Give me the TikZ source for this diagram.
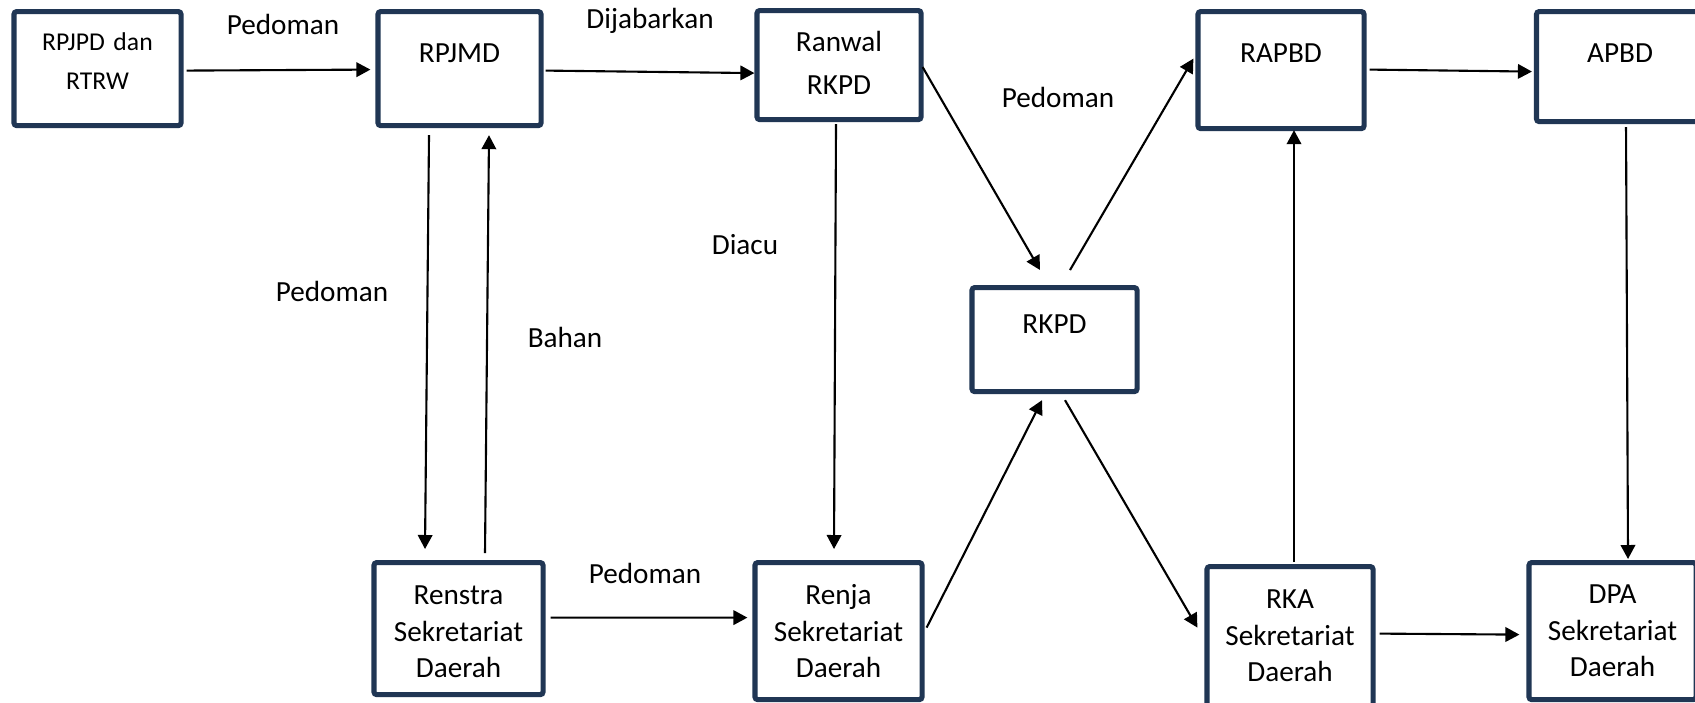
\documentclass[tikz,border=0pt]{standalone}
\usepackage{fontspec}
\setmainfont{Carlito}
\usetikzlibrary{arrows.meta}
\definecolor{boxblue}{RGB}{32,54,84}
\tikzset{
	box/.style={draw=boxblue, line width=1.45pt, rounded corners=0.8pt, fill=white, inner sep=0pt,
		align=center, anchor=north, font=\fontsize{8.3}{10.4}\selectfont},
	lbl/.style={inner sep=0pt, font=\fontsize{8.3}{10}\selectfont}
}
\begin{document}
\begin{tikzpicture}[
		x=0.01cm,
		y=-0.01cm,
		>={Triangle[length=0.14cm,width=0.145cm]},
		line width=0.6pt
		]
		\clip (0,0) rectangle (1695,702);
		\fill[white] (0,0) rectangle (1695,702);
		% top row
		\node[box, text width=1.67cm, text height=0.39cm, text depth=0.75cm, font=\fontsize{7.3}{11.1}\selectfont] (rpjpd) at (97.5,9) {RPJPD dan\\RTRW};
		\node[box, text width=1.63cm, text height=0.51cm, text depth=0.63cm] (rpjmd) at (459.5,9) {RPJMD};
		\node[box, text width=1.64cm, text height=0.41cm, text depth=0.68cm, font=\fontsize{8.3}{12.2}\selectfont] (ranwal) at (839,8) {Ranwal\\RKPD};
		\node[box, text width=1.66cm, text height=0.51cm, text depth=0.66cm] (rapbd) at (1281,9) {RAPBD};
		\node[box, text width=1.67cm, text height=0.51cm, text depth=0.59cm] (apbd) at (1620,9) {APBD};
		% middle
		\node[box, text width=1.65cm, text height=0.46cm, text depth=0.58cm] (rkpd) at (1054.5,285) {RKPD};
		% bottom row
		\node[box, text width=1.69cm, text height=0.42cm, text depth=0.90cm] (renstra) at (458.5,560) {Renstra\\Sekretariat\\Daerah};
		\node[box, text width=1.67cm, text height=0.42cm, text depth=0.95cm] (renja) at (838.5,560) {Renja\\Sekretariat\\Daerah};
		\node[box, text width=1.66cm, text height=0.42cm, text depth=1.06cm] (rka) at (1290,564) {RKA\\Sekretariat\\Daerah};
		\node[box, text width=1.67cm, text height=0.41cm, text depth=0.96cm] (dpa) at (1612.5,560) {DPA\\Sekretariat\\Daerah};
		% labels
		\node[lbl] (l-ped1) at (283,24) {Pedoman};
		\node[lbl] (l-dijab) at (650,21) {Dijabarkan};
		\node[lbl] (l-ped2) at (1058,97) {Pedoman};
		\node[lbl] (l-diacu) at (745,245) {Diacu};
		\node[lbl] (l-ped3) at (332,291) {Pedoman};
		\node[lbl] (l-bahan) at (565,337) {Bahan};
		\node[lbl] (l-ped4) at (645,573) {Pedoman};
		% arrows
		\begin{scope}[->]
		\draw ([shift={(3,2)}]rpjpd.east) -- ([shift={(-5,1)}]rpjmd.west);
		\draw ([shift={(2,2)}]rpjmd.east) -- ([shift={(0,8)}]ranwal.west);
		\draw ([shift={(-30.5,7)}]rpjmd.south) -- ([shift={(-33.5,-11)}]renstra.north);
		\draw ([shift={(26.5,-7)}]renstra.north) -- ([shift={(29.5,7)}]rpjmd.south);
		\draw ([shift={(-3,2)}]ranwal.south) -- ([shift={(-4.5,-11)}]renja.north);
		\draw ([shift={(-1,2)}]ranwal.east) -- ([shift={(-14.5,-15)}]rkpd.north);
		\draw ([shift={(15.5,-15)}]rkpd.north) -- ([shift={(-2,-11.5)}]rapbd.west);
		\draw ([shift={(3,-0.5)}]rapbd.east) -- ([shift={(-2,5)}]apbd.west);
		\draw ([shift={(6,3)}]apbd.south) -- ([shift={(15.5,-1)}]dpa.north);
		\draw ([shift={(5,-11)}]renstra.east) -- ([shift={(-5,-13.5)}]renja.west);
		\draw ([shift={(2,-3.5)}]renja.east) -- ([shift={(-12.5,6)}]rkpd.south);
		\draw ([shift={(10.5,6)}]rkpd.south) -- ([shift={(-7,-13)}]rka.west);
		\draw ([shift={(4,-2)}]rka.north) -- ([shift={(13,-1)}]rapbd.south);
		\draw ([shift={(4,-7)}]rka.east) -- ([shift={(-7,3.5)}]dpa.west);
		\end{scope}
		\end{tikzpicture}
\end{document}
